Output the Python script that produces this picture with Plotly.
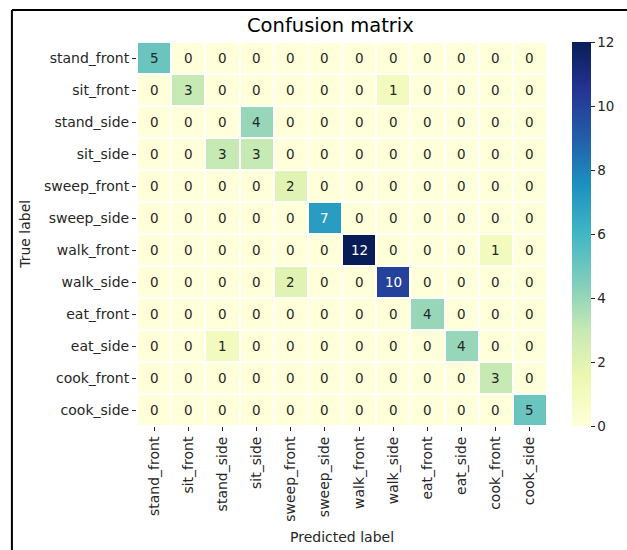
import plotly.graph_objects as go
from plotly.colors import sample_colorscale, unlabel_rgb
import plotly.express as px

labels = ["stand_front", "sit_front", "stand_side", "sit_side", "sweep_front",
          "sweep_side", "walk_front", "walk_side", "eat_front", "eat_side",
          "cook_front", "cook_side"]

# rows: true label, columns: predicted label
counts = [
    [5, 0, 0, 0, 0, 0, 0, 0, 0, 0, 0, 0],
    [0, 3, 0, 0, 0, 0, 0, 1, 0, 0, 0, 0],
    [0, 0, 0, 4, 0, 0, 0, 0, 0, 0, 0, 0],
    [0, 0, 3, 3, 0, 0, 0, 0, 0, 0, 0, 0],
    [0, 0, 0, 0, 2, 0, 0, 0, 0, 0, 0, 0],
    [0, 0, 0, 0, 0, 7, 0, 0, 0, 0, 0, 0],
    [0, 0, 0, 0, 0, 0, 12, 0, 0, 0, 1, 0],
    [0, 0, 0, 0, 2, 0, 0, 10, 0, 0, 0, 0],
    [0, 0, 0, 0, 0, 0, 0, 0, 4, 0, 0, 0],
    [0, 0, 1, 0, 0, 0, 0, 0, 0, 4, 0, 0],
    [0, 0, 0, 0, 0, 0, 0, 0, 0, 0, 3, 0],
    [0, 0, 0, 0, 0, 0, 0, 0, 0, 0, 0, 5],
]

colorbar_ticks = [0, 2, 4, 6, 8, 10, 12]
vmin, vmax = 0, 12

FONT = "DejaVu Sans"
TEXT_DARK = "#262626"
FS = 14

# figure geometry (pixels)
W, H = 627, 550
L, R, T, B = 137, 77, 42, 124
pw, ph = W - L - R, H - T - B


def px_x(x):
    return (x - L) / pw


def px_y(y):
    return (H - B - y) / ph


scale = px.colors.sequential.YlGnBu


def rel_lum(rgb):
    vals = []
    for c in rgb:
        c = c / 255.0
        vals.append(c / 12.92 if c <= 0.03928 else ((c + 0.055) / 1.055) ** 2.4)
    return 0.2126 * vals[0] + 0.7152 * vals[1] + 0.0722 * vals[2]


fig = go.Figure()
fig.add_trace(go.Heatmap(
    z=counts, x=labels, y=labels,
    colorscale=scale, zmin=vmin, zmax=vmax,
    xgap=2, ygap=2,
    colorbar=dict(
        x=px_x(575), xanchor="left", xref="paper",
        y=0.5, yanchor="middle", len=1.0, lenmode="fraction",
        thickness=19, outlinewidth=0, xpad=0, ypad=0,
        tickvals=colorbar_ticks, ticktext=[str(t) for t in colorbar_ticks],
        ticks="outside", ticklen=4, tickcolor=TEXT_DARK, tickwidth=1,
        tickfont=dict(family=FONT, size=13.5, color=TEXT_DARK),
    ),
    hoverinfo="skip",
))

# cell annotations, light text on dark cells
annotations = []
for i, row in enumerate(counts):
    for j, v in enumerate(row):
        frac = (v - vmin) / (vmax - vmin)
        rgb = unlabel_rgb(sample_colorscale(scale, [frac])[0])
        color = TEXT_DARK if rel_lum(rgb) > 0.408 else "white"
        annotations.append(dict(
            x=labels[j], y=labels[i], text=str(v), showarrow=False,
            font=dict(family=FONT, size=13.5, color=color),
        ))

annotations.append(dict(
    x=0.5, y=px_y(537), xref="paper", yref="paper", text="Predicted label",
    showarrow=False, xanchor="center", yanchor="middle",
    font=dict(family=FONT, size=FS, color=TEXT_DARK),
))
annotations.append(dict(
    x=px_x(24), y=0.5, xref="paper", yref="paper", text="True label",
    showarrow=False, xanchor="center", yanchor="middle", textangle=-90,
    font=dict(family=FONT, size=FS, color=TEXT_DARK),
))
annotations.append(dict(
    x=px_x(332), y=px_y(26), xref="paper", yref="paper", text="Confusion matrix",
    showarrow=False, xanchor="center", yanchor="middle",
    font=dict(family=FONT, size=19.5, color="black"),
))

# frame lines along the top and left edges
shapes = [
    dict(type="line", xref="paper", yref="paper",
         x0=px_x(11), x1=px_x(W + 5), y0=px_y(10), y1=px_y(10),
         line=dict(color="black", width=2)),
    dict(type="line", xref="paper", yref="paper",
         x0=px_x(11), x1=px_x(11), y0=px_y(10), y1=px_y(H + 5),
         line=dict(color="black", width=2)),
]

fig.update_layout(
    width=W, height=H,
    margin=dict(l=L, r=R, t=T, b=B),
    paper_bgcolor="white", plot_bgcolor="white",
    annotations=annotations,
    shapes=shapes,
    xaxis=dict(showgrid=False, zeroline=False, tickangle=-90,
               ticks="outside", ticklen=4, tickcolor=TEXT_DARK,
               tickfont=dict(family=FONT, size=FS, color=TEXT_DARK),
               showline=False),
    yaxis=dict(showgrid=False, zeroline=False, autorange="reversed",
               ticks="outside", ticklen=4, tickcolor=TEXT_DARK,
               tickfont=dict(family=FONT, size=FS, color=TEXT_DARK),
               showline=False),
)

fig.write_html("out.html")
